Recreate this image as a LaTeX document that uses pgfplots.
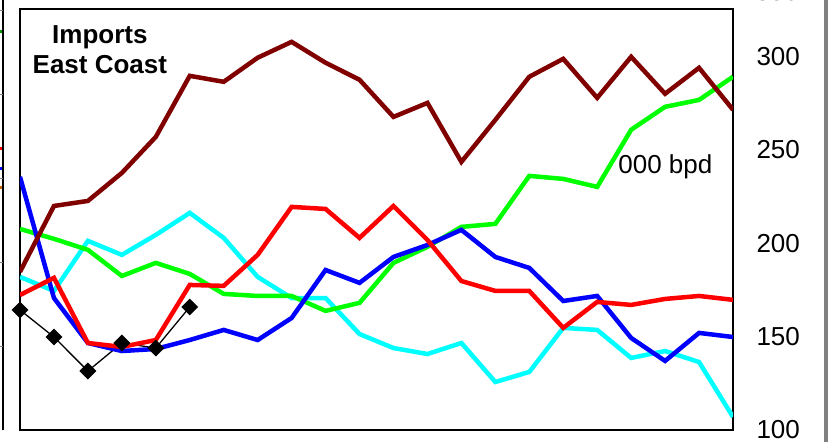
\documentclass[border=0pt]{standalone}
\usepackage{fontspec}
\setmainfont{Liberation Sans}
\usepackage{pgfplots}
\usepackage{pgfplotstable}
\pgfplotsset{compat=1.18}

\definecolor{imMaroon}{HTML}{800000}
\definecolor{imGreen}{HTML}{00FF00}
\definecolor{imCyan}{HTML}{00FFFF}
\definecolor{imRed}{HTML}{FF0000}
\definecolor{imBlue}{HTML}{0000FF}
\definecolor{imOrange}{HTML}{CC6600}

% 000 bpd, one row per period
\pgfplotstableread{
x  maroon green cyan  red   blue
0  184.7 207.7 182.0 172.3 235.6
1  220.0 202.4 174.5 181.5 170.7
2  222.7 196.5 201.3 146.6 146.6
3  237.7 182.5 193.8 144.5 142.3
4  257.0 189.5 204.5 148.2 143.4
5  289.7 183.6 216.3 177.7 148.2
6  286.5 172.9 202.9 177.2 153.6
7  299.4 171.8 182.0 193.8 148.2
8  307.9 171.8 170.7 219.5 160.0
9  296.7 163.8 170.7 218.4 185.7
10 287.6 168.1 151.4 202.9 178.8
11 267.7 189.5 143.9 220.0 192.7
12 275.2 198.1 140.7 201.8 199.1
13 243.6 208.8 146.6 179.8 207.2
14 266.1 210.4 125.7 174.5 192.7
15 289.2 236.1 131.1 174.5 186.8
16 298.8 234.5 154.7 154.7 169.1
17 277.9 230.2 153.6 168.6 171.8
18 299.9 260.8 138.6 167.0 149.3
19 280.1 273.1 142.3 170.2 137.0
20 294.0 276.8 136.4 171.8 152.0
21 271.5 289.2 107.0 169.7 149.8
}\imports

\pgfplotstableread{
x y
0 164.3
1 149.8
2 131.6
3 146.6
4 143.9
5 165.9
}\diamonds

\begin{document}
\begin{tikzpicture}
\path[use as bounding box] (0,0) rectangle (828pt,442pt);

% pieces of the neighbouring panels
\draw[line width=1.5pt] (3pt,12pt) -- (3pt,442pt);
\foreach \yy in {431,347,263,179,95} \draw[gray, line width=1pt] (3pt,\yy pt) -- (0pt,\yy pt);
\draw[imGreen!60!black, line width=3pt] (0pt,410pt) -- (2pt,410pt);
\draw[imRed, line width=3pt] (0pt,293pt) -- (2pt,293pt);
\draw[imBlue, line width=3pt] (0pt,273pt) -- (2pt,273pt);
\draw[imOrange, line width=3pt] (0pt,254pt) -- (2pt,254pt);
\fill[gray] (824pt,0pt) rectangle (828pt,442pt);
\node[font=\fontsize{26}{31}\selectfont] at (777pt,450pt) {350};

\begin{axis}[
  at={(20pt,12pt)}, anchor=south west,
  scale only axis, width=713pt, height=421pt,
  xmin=0, xmax=21, ymin=100, ymax=325.5,
  xtick=\empty,
  ytick={100,150,...,300},
  yticklabel pos=right,
  major tick length=0pt,
  yticklabel style={font=\fontsize{26}{31}\selectfont, xshift=20pt},
  /pgf/number format/assume math mode=true,
  axis line style={line width=1.5pt},
]
\addplot[black, line width=1.3pt, mark=square*, mark size=5.3pt,
  mark options={rotate=45, fill=black}] table[x=x, y=y] {\diamonds};
\addplot[imCyan, line width=4.5pt] table[x=x, y=cyan] {\imports};
\addplot[imGreen, line width=4.5pt] table[x=x, y=green] {\imports};
\addplot[imBlue, line width=4.5pt] table[x=x, y=blue] {\imports};
\addplot[imRed, line width=4.5pt] table[x=x, y=red] {\imports};
\addplot[imMaroon, line width=4.5pt] table[x=x, y=maroon] {\imports};

\node[align=center, font=\bfseries\fontsize{26}{30}\selectfont]
  at (rel axis cs:0.112,0.903) {Imports\\East Coast};
\node[anchor=west, inner sep=0pt, font=\fontsize{26}{31}\selectfont]
  at (rel axis cs:0.839,0.625) {000 bpd};
\end{axis}
\end{tikzpicture}
\end{document}
